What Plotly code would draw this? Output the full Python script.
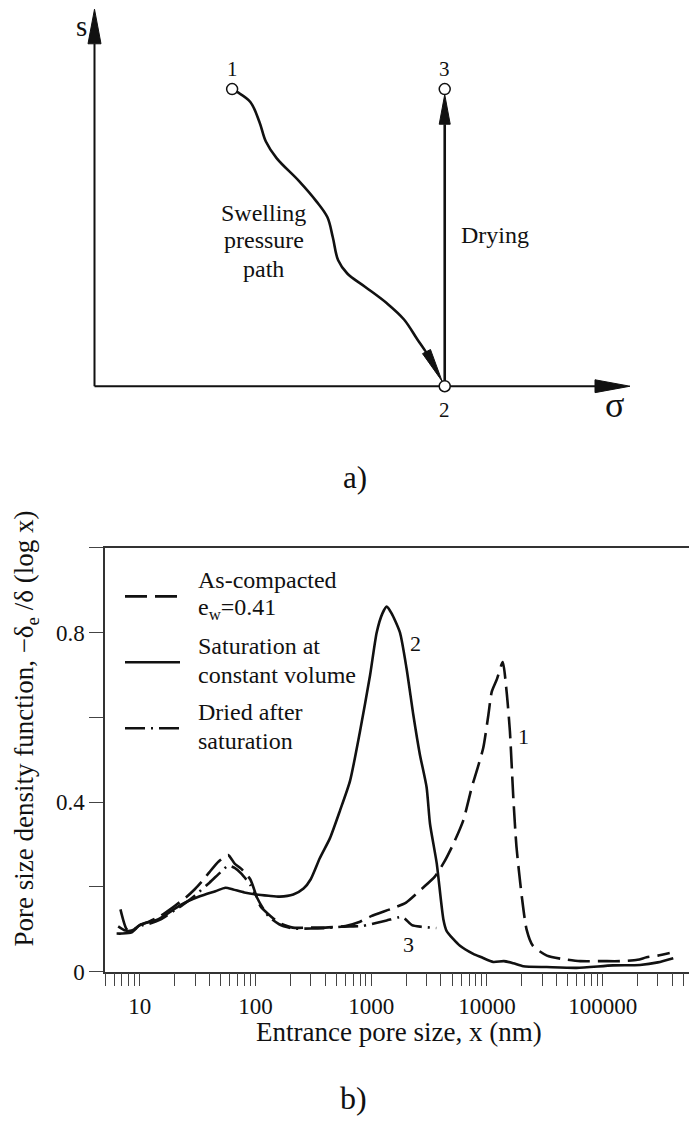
import math
import plotly.graph_objects as go

W, H = 689, 1133
FONT = "'Liberation Serif', 'Times New Roman', Times, serif"
INK = "#111111"

# ====================== (a) stress path in the sigma - s plane ======================
state_labels = ["1", "2", "3"]
state_sigma = [0.257, 0.654, 0.654]
state_s = [0.788, 0.0, 0.788]

swelling_sigma = [0.257, 0.267, 0.291, 0.308, 0.320, 0.340, 0.382, 0.414, 0.435,
                  0.445, 0.455, 0.472, 0.505, 0.546, 0.578, 0.603, 0.624, 0.654]
swelling_s = [0.788, 0.780, 0.754, 0.701, 0.649, 0.605, 0.544, 0.491, 0.448,
              0.395, 0.334, 0.299, 0.264, 0.220, 0.177, 0.124, 0.081, 0.0]

swelling_text = ["Swelling", "pressure", "path"]
swelling_text_sigma = 0.316
swelling_text_s = [0.460, 0.387, 0.311]
drying_text = "Drying"
drying_text_pos = (0.681, 0.400)

# ====================== (b) pore size density functions ======================
x_as_compacted = [6.8, 7.7, 8.5, 10, 12, 15, 20, 25, 30, 35, 40, 48, 58, 66, 75, 90,
                  110, 130, 160, 210, 300, 400, 600, 800, 1000, 1550, 2000, 2800,
                  3560, 4300, 5100, 6250, 7400, 8300, 9300, 10300, 11000, 12200,
                  13700, 14800, 15800, 16900, 18000, 20000, 22000, 25000, 33000,
                  45000, 64000, 100000, 141000, 200000, 240000, 300000, 380000]
y_as_compacted = [0.147, 0.100, 0.097, 0.110, 0.118, 0.131, 0.155, 0.175, 0.195,
                  0.215, 0.235, 0.260, 0.275, 0.255, 0.243, 0.218, 0.155, 0.135,
                  0.115, 0.104, 0.104, 0.104, 0.108, 0.118, 0.131, 0.150, 0.163,
                  0.198, 0.225, 0.260, 0.300, 0.357, 0.435, 0.480, 0.528, 0.606,
                  0.660, 0.690, 0.730, 0.660, 0.567, 0.411, 0.295, 0.178, 0.100,
                  0.061, 0.038, 0.030, 0.025, 0.025, 0.025, 0.028, 0.034, 0.038,
                  0.044]

x_saturation = [6.3, 7, 8.5, 10, 14.5, 23, 33, 45, 55, 64, 80, 102, 130, 162, 212,
                260, 300, 360, 440, 537, 656, 800, 977, 1115, 1250, 1360, 1500,
                1770, 2020, 2310, 2630, 3010, 3220, 3680, 4200, 4490, 5850, 7620,
                9000, 11350, 14000, 16900, 20600, 32800, 59600, 123000, 210000,
                300000, 408000]
y_saturation = [0.090, 0.090, 0.093, 0.110, 0.124, 0.159, 0.178, 0.190, 0.198,
                0.194, 0.187, 0.182, 0.179, 0.177, 0.182, 0.196, 0.218, 0.268,
                0.315, 0.380, 0.450, 0.567, 0.699, 0.800, 0.845, 0.861, 0.845,
                0.800, 0.715, 0.606, 0.513, 0.435, 0.349, 0.256, 0.124, 0.096,
                0.061, 0.042, 0.034, 0.023, 0.025, 0.020, 0.013, 0.011, 0.009,
                0.015, 0.016, 0.022, 0.032]

x_dried = [6.5, 7.5, 8.5, 10, 12, 15, 20, 25, 30, 40, 50, 58, 66, 75, 90, 110, 130,
           160, 210, 300, 400, 550, 700, 850, 1100, 1360, 1860, 2250, 2700, 3650]
y_dried = [0.107, 0.097, 0.097, 0.108, 0.113, 0.123, 0.145, 0.163, 0.180, 0.210,
           0.235, 0.250, 0.245, 0.232, 0.205, 0.160, 0.130, 0.112, 0.102, 0.102,
           0.103, 0.106, 0.107, 0.108, 0.115, 0.121, 0.129, 0.110, 0.106, 0.103]

legend_names = ["As-compacted<br>e<sub>w</sub>=0.41",
                "Saturation at<br>constant volume",
                "Dried after<br>saturation"]
series_dash = ["22px,8px", "solid", "20px,6px,2px,6px"]

curve_label_text = ["1", "2", "3"]
curve_label_x = [20600, 2390, 2090]
curve_label_y = [0.555, 0.775, 0.065]

y_tick_vals = [0, 0.4, 0.8]
y_tick_text = ["0", "0.4", "0.8"]
y_minor_vals = [0.2, 0.6, 1.0]
x_tick_vals = [10, 100, 1000, 10000, 100000]
x_tick_text = ["10", "100", "1000", "10000", "100000"]

x_title = "Entrance pore size, x (nm)"
y_title = "Pore size density function, \u2212\u03b4<sub>e</sub> /\u03b4 (log x)"

# ====================== layout geometry (pixels) ======================
# panel (a)
OX, OY = 94.5, 390.7          # pixel position of the diagram origin
KX, KY = 535.5, 381.4         # pixels per unit of sigma and s
A_BOTTOM = 495
# panel (b)
B_LEFT, B_TOP, B_BOTTOM = 105, 554, 983
X_MIN = 5.0
X_MAX_TICK = 500000
PX_PER_DECADE = 115.7


def fx(px):
    return px / W


def fy(py):
    return 1 - py / H


def head(tip, frm, length, half):
    """Triangle arrow head (data units of panel a) of given pixel size."""
    tx, ty = tip
    dxp = (tx - frm[0]) * KX
    dyp = (ty - frm[1]) * KY
    n = math.hypot(dxp, dyp)
    ux, uy = dxp / n, dyp / n
    bx, by = -ux * length, -uy * length
    nx, ny = -uy, ux
    pts = [(0, 0), (bx + nx * half, by + ny * half), (bx - nx * half, by - ny * half), (0, 0)]
    xs = [tx + a / KX for a, b in pts]
    ys = [ty + b / KY for a, b in pts]
    return xs, ys, (tx + bx / KX, ty + by / KY)


def back_off(pt, frm, r):
    dxp = (pt[0] - frm[0]) * KX
    dyp = (pt[1] - frm[1]) * KY
    n = math.hypot(dxp, dyp)
    return (pt[0] - dxp / n * r / KX, pt[1] - dyp / n * r / KY)


def paper_text(px, py, text, size, **kw):
    d = dict(x=fx(px), y=fy(py), xref="paper", yref="paper", text=text,
             showarrow=False, xanchor="center", yanchor="middle",
             font=dict(family=FONT, size=size, color=INK))
    d.update(kw)
    return d


fig = go.Figure()

# ---------- panel (a) ----------
AX = dict(xaxis="x2", yaxis="y2", showlegend=False, hoverinfo="skip")
R_CIRCLE = 5.5

# axes with arrow heads
for tip in [(0.0, 1.0), (1.0, 0.0)]:
    hx, hy, base = head(tip, (0.0, 0.0), 35, 6.5)
    fig.add_trace(go.Scatter(x=[0, base[0]], y=[0, base[1]], mode="lines",
                             line=dict(color=INK, width=2), **AX))
    fig.add_trace(go.Scatter(x=hx, y=hy, mode="lines", fill="toself", fillcolor=INK,
                             line=dict(color=INK, width=1), **AX))

# swelling pressure path 1 -> 2
p2 = (state_sigma[1], state_s[1])
prev = (swelling_sigma[-2], swelling_s[-2])
tip = back_off(p2, prev, R_CIRCLE)
hx, hy, base = head(tip, prev, 34, 4.5)
fig.add_trace(go.Scatter(x=swelling_sigma[:-1] + [base[0]], y=swelling_s[:-1] + [base[1]],
                         mode="lines", line=dict(color=INK, width=2.6, shape="spline",
                                                 smoothing=1.0), **AX))
fig.add_trace(go.Scatter(x=hx, y=hy, mode="lines", fill="toself", fillcolor=INK,
                         line=dict(color=INK, width=1), **AX))

# drying path 2 -> 3
p3 = (state_sigma[2], state_s[2])
tip = back_off(p3, p2, R_CIRCLE)
hx, hy, base = head(tip, p2, 30, 5.5)
fig.add_trace(go.Scatter(x=[p2[0], base[0]], y=[p2[1], base[1]], mode="lines",
                         line=dict(color=INK, width=2.6), **AX))
fig.add_trace(go.Scatter(x=hx, y=hy, mode="lines", fill="toself", fillcolor=INK,
                         line=dict(color=INK, width=1), **AX))

# state points
fig.add_trace(go.Scatter(x=state_sigma, y=state_s, mode="markers",
                         marker=dict(symbol="circle", size=2 * R_CIRCLE, color="white",
                                     line=dict(color=INK, width=1.5)), **AX))

ann = []
for lab, sx, sy in zip(state_labels, state_sigma, state_s):
    ann.append(dict(x=sx, y=sy, xref="x2", yref="y2", text=lab, showarrow=False,
                    xanchor="center", yanchor="middle",
                    yshift=(-24 if sy == 0 else 20),
                    font=dict(family=FONT, size=21, color=INK)))
for t, sy in zip(swelling_text, swelling_text_s):
    ann.append(dict(x=swelling_text_sigma, y=sy, xref="x2", yref="y2", text=t,
                    showarrow=False, xanchor="center", yanchor="middle",
                    font=dict(family=FONT, size=24, color=INK)))
ann.append(dict(x=drying_text_pos[0], y=drying_text_pos[1], xref="x2", yref="y2",
                text=drying_text, xanchor="left", yanchor="middle", showarrow=False,
                font=dict(family=FONT, size=24, color=INK)))
ann.append(dict(x=0, y=1.0, xref="x2", yref="y2", text="s", showarrow=False,
                xanchor="center", yanchor="middle",
                xshift=-13, yshift=-17, font=dict(family=FONT, size=29, color=INK)))
ann.append(dict(x=1.0, y=0, xref="x2", yref="y2", text="\u03c3", showarrow=False,
                xanchor="center", yanchor="middle",
                xshift=-16, yshift=-19, font=dict(family=FONT, size=36, color=INK)))
ann.append(paper_text(355, 483, "a)", 31))

# ---------- panel (b) ----------
series = [(x_as_compacted, y_as_compacted), (x_saturation, y_saturation), (x_dried, y_dried)]
for (xs, ys), name, dash in zip(series, legend_names, series_dash):
    fig.add_trace(go.Scatter(x=xs, y=ys, mode="lines", name=name.replace("<br>", " "),
                             line=dict(color=INK, width=2.6, dash=dash, shape="spline",
                                       smoothing=0.6),
                             showlegend=False, xaxis="x", yaxis="y"))

for t, cx, cy in zip(curve_label_text, curve_label_x, curve_label_y):
    ann.append(dict(x=math.log10(cx), y=cy, xref="x", yref="y", text=t, showarrow=False,
                    xanchor="center", yanchor="middle",
                    font=dict(family=FONT, size=22, color=INK)))

# hand-drawn legend (samples 55 px long, text at right)
shapes = []
legend_sample_y = [603.3, 670.0, 736.7]
for name, dash, sy in zip(legend_names, series_dash, legend_sample_y):
    shapes.append(dict(type="line", xref="paper", yref="paper", x0=fx(125), x1=fx(180),
                       y0=fy(sy), y1=fy(sy), line=dict(color=INK, width=2.6, dash=dash)))
    lines = name.split("<br>")
    for k, ln in enumerate(lines):
        ly = sy - 2 + (k - 0.5) * 29
        ann.append(paper_text(196, ly, ln, 24, xanchor="left"))

ann.append(paper_text(399, 1044, x_title, 27))
ann.append(paper_text(26, 737, y_title, 27, textangle=-90))
ann.append(paper_text(353, 1111, "b)", 32))

# minor log ticks: 2..9 times each decade, inside the axis range
x_minor_vals = [m * 10 ** e for e in range(0, 6) for m in range(2, 10)
                if X_MIN <= m * 10 ** e <= X_MAX_TICK]
lx0 = math.log10(X_MIN)
lx1 = lx0 + (W - B_LEFT) / PX_PER_DECADE

TICK_STYLE = dict(ticks="outside", tickwidth=1, tickcolor="#444")

fig.update_layout(
    width=W, height=H, margin=dict(l=0, r=0, t=0, b=0),
    paper_bgcolor="white", plot_bgcolor="white",
    font=dict(family=FONT, color=INK),
    showlegend=False,
    xaxis=dict(type="log", range=[lx0, lx1], domain=[fx(B_LEFT), 1.0],
               showline=True, mirror=True, linecolor="#333", linewidth=1.5,
               ticklen=13, tickmode="array", tickvals=x_tick_vals, ticktext=x_tick_text,
               tickangle=0, tickfont=dict(family=FONT, size=23, color=INK),
               minor=dict(tickmode="array", tickvals=x_minor_vals, ticklen=13,
                          showgrid=False, **TICK_STYLE),
               showgrid=False, zeroline=False, anchor="y", **TICK_STYLE),
    yaxis=dict(range=[0, 1.0], domain=[fy(B_BOTTOM), fy(B_TOP)],
               showline=True, linecolor="#333", linewidth=1.5,
               ticklen=14, tickmode="array", tickvals=y_tick_vals, ticktext=y_tick_text,
               tickfont=dict(family=FONT, size=23, color=INK),
               minor=dict(tickmode="array", tickvals=y_minor_vals, ticklen=14,
                          showgrid=False, **TICK_STYLE),
               showgrid=False, zeroline=False, anchor="x", **TICK_STYLE),
    xaxis2=dict(range=[-OX / KX, (W - OX) / KX], domain=[0, 1], visible=False,
                anchor="y2"),
    yaxis2=dict(range=[(OY - A_BOTTOM) / KY, OY / KY], domain=[fy(A_BOTTOM), 1.0],
                visible=False, anchor="x2"),
    annotations=ann, shapes=shapes,
)

fig.write_html("out.html")
